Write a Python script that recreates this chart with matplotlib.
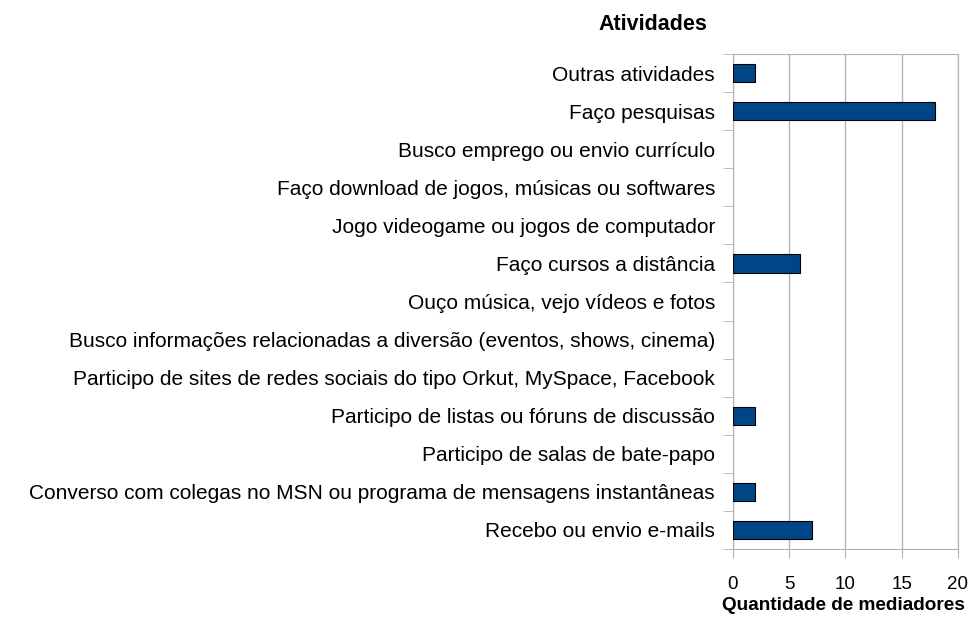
import matplotlib
matplotlib.use('Agg')
import numpy as np
from matplotlib import pyplot as plt

plt.rcParams['font.family'] = ['Liberation Sans', 'DejaVu Sans']

# categorias, de cima para baixo
atividades = [
    'Outras atividades',
    'Faço pesquisas',
    'Busco emprego ou envio currículo',
    'Faço download de jogos, músicas ou softwares',
    'Jogo videogame ou jogos de computador',
    'Faço cursos a distância',
    'Ouço música, vejo vídeos e fotos',
    'Busco informações relacionadas a diversão (eventos, shows, cinema)',
    'Participo de sites de redes sociais do tipo Orkut, MySpace, Facebook',
    'Participo de listas ou fóruns de discussão',
    'Participo de salas de bate-papo',
    'Converso com colegas no MSN ou programa de mensagens instantâneas',
    'Recebo ou envio e-mails',
]
quantidade = [2, 18, 0, 0, 0, 6, 0, 0, 0, 2, 0, 2, 7]
xticks = [0, 5, 10, 15, 20]

fig = plt.figure(figsize=(9.7, 6.23), dpi=100)
ax = fig.add_axes([733/970, 1-549/623, 225/970, 495/623])

n = len(atividades)
y = np.arange(n)[::-1]
# barras com valor zero nao aparecem
bordas = ['black' if q > 0 else 'none' for q in quantidade]
ax.barh(y, quantidade, height=0.48, color='#004586', edgecolor=bordas, linewidth=0.8, zorder=3)

ax.set_xlim(0, 20)
ax.set_ylim(-0.5, n - 0.5)
ax.set_xticks(xticks)
ax.set_yticks(y)
ax.set_yticklabels(atividades, fontsize=15)
ax.tick_params(axis='y', which='major', length=0, pad=13)
ax.set_yticks(np.arange(n + 1) - 0.5, minor=True)
ax.tick_params(axis='y', which='minor', length=7, color='#b3b3b3')
ax.tick_params(axis='x', length=6.5, color='#b3b3b3', labelsize=13.5, pad=13)
ax.xaxis.grid(True, color='#b3b3b3', linewidth=1, zorder=0)
for s in ax.spines.values():
    s.set_color('#b3b3b3')

ax.set_xlabel('Quantidade de mediadores', fontsize=13.7, fontweight='bold')
ax.xaxis.set_label_coords(0.49, -0.097)
fig.text(653/970, 1-25/623, 'Atividades', fontsize=15.5, fontweight='bold', ha='center', va='center')

fig.savefig('out.png', dpi=100)
